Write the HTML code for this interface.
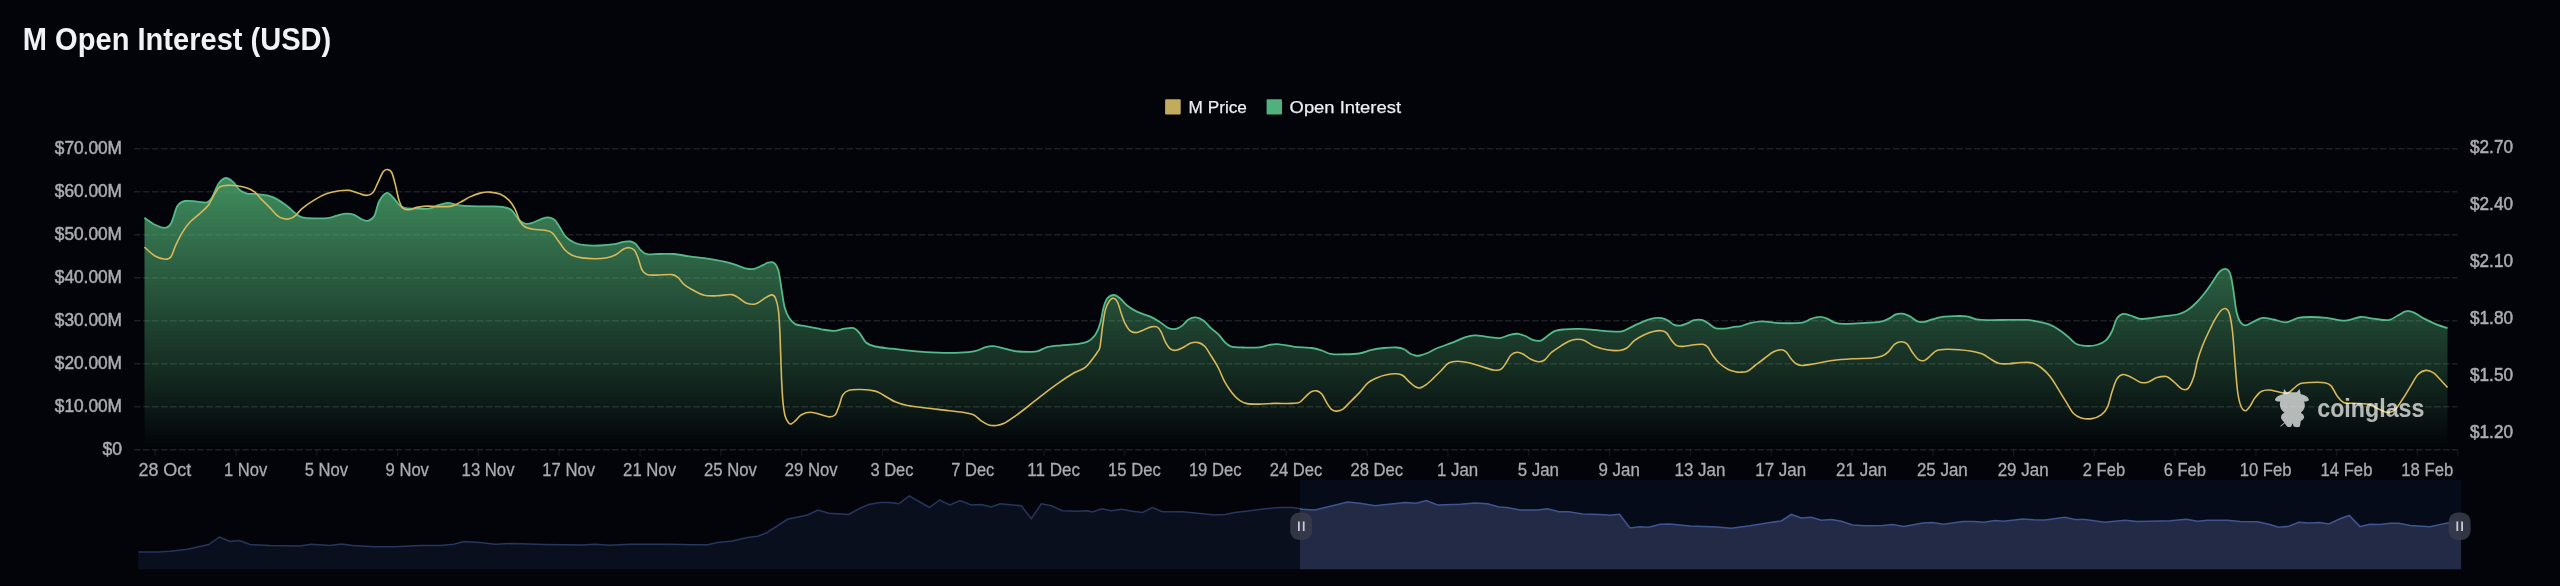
<!DOCTYPE html><html><head><meta charset="utf-8"><title>M Open Interest (USD)</title>
<style>html,body{margin:0;padding:0;background:#030409;}body{width:2560px;height:586px;overflow:hidden;font-family:"Liberation Sans",sans-serif;}svg{display:block;position:absolute;left:0;top:0}svg{will-change:transform}text{font-family:"Liberation Sans",sans-serif;}</style></head><body>
<svg width="2560" height="586" viewBox="0 0 2560 586">
<defs><linearGradient id="ga" x1="0" y1="178" x2="0" y2="449.75" gradientUnits="userSpaceOnUse"><stop offset="0" stop-color="#50b074" stop-opacity="0.8"/><stop offset="1" stop-color="#50b074" stop-opacity="0"/></linearGradient><clipPath id="selclip"><rect x="1300" y="479.75" width="1161.3" height="89.75"/></clipPath><clipPath id="unselclip"><rect x="138" y="479.75" width="1162" height="89.75"/></clipPath></defs>
<text x="22.8" y="49.8" font-size="30.8" font-weight="700" fill="#f1f2f6" textLength="308.5" lengthAdjust="spacingAndGlyphs">M Open Interest (USD)</text>
<rect x="1165.1" y="99.2" width="15.6" height="15.3" rx="1" fill="#c4aa5c"/>
<text x="1188.6" y="112.7" font-size="17.2" fill="#eceef2" stroke="#eceef2" stroke-width="0.25" textLength="58.3" lengthAdjust="spacingAndGlyphs">M Price</text>
<rect x="1266.6" y="99.2" width="15.4" height="15.3" rx="1" fill="#50b07e"/>
<text x="1289.6" y="112.7" font-size="17.2" fill="#eceef2" stroke="#eceef2" stroke-width="0.25" textLength="111.4" lengthAdjust="spacingAndGlyphs">Open Interest</text>
<line x1="134" y1="148.75" x2="2457.5" y2="148.75" stroke="#ffffff" stroke-opacity="0.115" stroke-width="1.5" stroke-dasharray="6.5 2.52"/>
<line x1="134" y1="191.75" x2="2457.5" y2="191.75" stroke="#ffffff" stroke-opacity="0.115" stroke-width="1.5" stroke-dasharray="6.5 2.52"/>
<line x1="134" y1="234.75" x2="2457.5" y2="234.75" stroke="#ffffff" stroke-opacity="0.115" stroke-width="1.5" stroke-dasharray="6.5 2.52"/>
<line x1="134" y1="277.75" x2="2457.5" y2="277.75" stroke="#ffffff" stroke-opacity="0.115" stroke-width="1.5" stroke-dasharray="6.5 2.52"/>
<line x1="134" y1="320.75" x2="2457.5" y2="320.75" stroke="#ffffff" stroke-opacity="0.115" stroke-width="1.5" stroke-dasharray="6.5 2.52"/>
<line x1="134" y1="363.75" x2="2457.5" y2="363.75" stroke="#ffffff" stroke-opacity="0.115" stroke-width="1.5" stroke-dasharray="6.5 2.52"/>
<line x1="134" y1="406.75" x2="2457.5" y2="406.75" stroke="#ffffff" stroke-opacity="0.115" stroke-width="1.5" stroke-dasharray="6.5 2.52"/>
<line x1="134" y1="449.75" x2="2457.5" y2="449.75" stroke="#ffffff" stroke-opacity="0.115" stroke-width="1.5" stroke-dasharray="6.5 2.52"/>
<path d="M144.5 217.8C146.2 219.0 151.6 223.1 155.0 224.8C158.4 226.5 162.3 228.0 165.0 227.8C167.7 227.6 168.9 227.1 171.0 223.5C173.1 219.9 175.1 209.8 177.4 206.0C179.7 202.2 181.7 201.7 185.0 201.0C188.3 200.3 193.3 201.4 197.0 201.6C200.7 201.8 204.5 203.1 207.0 202.4C209.5 201.7 210.1 200.5 212.0 197.4C213.9 194.3 216.2 186.9 218.5 183.7C220.8 180.5 223.5 178.2 226.0 178.0C228.5 177.8 231.2 180.4 233.5 182.4C235.8 184.4 237.4 188.1 239.7 190.0C241.9 191.9 244.1 192.9 247.0 193.6C249.9 194.3 253.7 193.7 257.0 194.0C260.3 194.3 263.8 194.6 267.0 195.4C270.2 196.2 272.7 196.8 276.0 198.6C279.3 200.4 283.7 203.5 287.0 206.0C290.3 208.5 293.3 211.7 295.8 213.6C298.3 215.5 298.9 216.5 302.0 217.3C305.1 218.1 309.9 218.2 314.5 218.3C319.1 218.4 325.2 218.4 329.4 217.8C333.5 217.2 336.5 215.5 339.4 214.8C342.3 214.1 344.4 213.6 346.9 213.6C349.4 213.6 351.8 213.9 354.3 214.8C356.8 215.8 359.5 218.3 361.8 219.3C364.1 220.3 365.9 221.4 368.0 220.8C370.1 220.2 372.4 219.3 374.3 216.0C376.2 212.7 377.2 204.8 379.3 201.0C381.4 197.2 384.4 193.5 386.7 192.9C389.0 192.3 390.9 195.4 393.0 197.4C395.1 199.4 397.3 203.2 399.2 204.9C401.1 206.7 401.7 207.3 404.2 207.9C406.7 208.5 409.9 208.5 414.0 208.6C418.1 208.7 424.8 209.2 429.0 208.6C433.2 208.0 435.9 205.8 439.0 204.9C442.1 204.0 445.1 203.0 447.8 202.9C450.5 202.8 453.0 204.0 455.0 204.4C457.0 204.8 457.5 205.1 460.0 205.4C462.5 205.7 465.0 205.9 470.0 206.1C475.0 206.3 484.6 206.3 490.0 206.4C495.4 206.5 498.9 206.3 502.4 206.9C505.9 207.5 508.3 207.7 511.0 209.8C513.7 211.9 516.3 217.0 518.6 219.3C520.9 221.6 522.5 223.0 524.8 223.6C527.1 224.2 529.4 223.6 532.3 222.8C535.2 222.0 539.5 219.5 542.2 218.6C544.9 217.7 546.4 217.1 548.5 217.3C550.6 217.5 552.8 218.1 554.7 219.8C556.6 221.5 557.8 224.5 559.7 227.3C561.6 230.1 563.4 234.2 565.9 236.8C568.4 239.4 571.5 241.3 574.6 242.7C577.7 244.1 580.4 244.7 584.6 245.2C588.8 245.7 594.6 245.7 599.6 245.5C604.6 245.3 610.4 244.8 614.5 244.2C618.6 243.6 621.8 242.1 624.5 241.7C627.2 241.2 628.8 241.1 630.7 241.5C632.6 241.9 634.0 242.6 635.7 244.0C637.4 245.4 638.8 248.5 640.7 250.2C642.6 251.9 643.8 253.6 646.9 254.2C650.0 254.8 654.8 254.0 659.4 254.0C664.0 254.0 669.3 253.6 674.3 254.0C679.3 254.4 683.5 255.6 689.3 256.4C695.1 257.2 703.4 258.0 709.2 258.9C715.0 259.8 719.6 260.6 724.2 261.7C728.8 262.8 732.9 264.0 736.6 265.2C740.3 266.4 743.7 268.1 746.6 268.7C749.5 269.3 751.3 269.5 754.0 268.9C756.7 268.3 760.5 266.2 762.8 265.2C765.1 264.2 765.9 263.1 767.7 262.7C769.5 262.3 772.0 261.4 773.8 262.7C775.6 264.0 777.1 266.0 778.4 270.4C779.7 274.8 780.5 282.7 781.5 288.8C782.5 294.9 783.3 302.3 784.6 307.2C785.9 312.1 787.4 315.2 789.2 318.0C791.0 320.8 792.5 322.7 795.3 324.1C798.1 325.5 801.8 325.4 806.1 326.3C810.5 327.2 816.8 328.5 821.4 329.3C826.0 330.1 829.9 331.0 833.7 330.9C837.6 330.8 841.2 329.2 844.5 328.7C847.8 328.2 851.2 327.3 853.7 328.1C856.2 328.9 857.8 330.9 859.8 333.3C861.8 335.7 863.4 340.3 866.0 342.5C868.6 344.7 870.9 345.5 875.2 346.5C879.6 347.5 885.7 347.9 892.1 348.7C898.5 349.5 905.9 350.4 913.6 351.1C921.3 351.8 930.5 352.4 938.2 352.7C945.9 353.0 953.6 353.0 959.7 352.7C965.8 352.4 970.6 352.0 975.0 351.1C979.4 350.2 982.7 347.9 985.8 347.1C988.9 346.3 990.6 346.0 993.4 346.2C996.2 346.4 999.1 347.3 1002.7 348.1C1006.3 348.9 1010.3 350.5 1014.9 351.1C1019.5 351.7 1026.5 351.8 1030.3 351.8C1034.1 351.8 1035.2 351.9 1038.0 351.1C1040.8 350.3 1043.4 348.1 1047.2 347.1C1051.0 346.1 1056.1 345.8 1061.0 345.3C1065.9 344.8 1072.1 344.7 1076.4 344.1C1080.8 343.5 1084.0 343.3 1087.1 341.9C1090.2 340.5 1092.6 338.5 1094.8 335.5C1097.0 332.5 1098.5 328.9 1100.0 324.1C1101.5 319.3 1102.5 311.2 1103.7 306.9C1105.0 302.6 1105.8 300.2 1107.5 298.2C1109.2 296.2 1111.6 295.0 1113.7 295.0C1115.8 295.0 1117.6 296.4 1119.9 298.2C1122.2 300.0 1124.5 303.4 1127.4 305.7C1130.3 308.0 1133.7 310.1 1137.4 311.9C1141.1 313.7 1146.1 314.7 1149.8 316.4C1153.5 318.1 1156.7 319.9 1159.8 321.9C1162.9 323.8 1165.8 326.9 1168.5 328.1C1171.2 329.3 1173.7 329.3 1176.0 328.9C1178.3 328.5 1180.1 327.2 1182.2 325.6C1184.3 324.0 1186.2 320.8 1188.5 319.4C1190.8 318.0 1193.5 317.2 1196.0 317.4C1198.5 317.6 1200.9 318.8 1203.4 320.6C1205.9 322.4 1208.4 325.8 1210.9 328.1C1213.4 330.4 1216.1 332.0 1218.4 334.3C1220.7 336.6 1222.5 339.8 1224.6 341.8C1226.7 343.8 1227.9 345.4 1230.8 346.3C1233.7 347.2 1237.3 347.3 1242.1 347.5C1246.9 347.7 1254.9 347.8 1259.5 347.3C1264.1 346.9 1266.2 345.3 1269.5 344.8C1272.8 344.3 1275.2 344.0 1279.4 344.3C1283.6 344.6 1289.0 346.2 1294.4 346.8C1299.8 347.4 1307.2 347.4 1311.8 348.0C1316.4 348.6 1318.7 349.5 1321.8 350.5C1324.9 351.5 1327.2 353.2 1330.5 353.8C1333.8 354.4 1336.9 354.4 1341.7 354.3C1346.5 354.2 1354.2 354.2 1359.2 353.5C1364.2 352.8 1367.6 350.7 1371.7 349.8C1375.8 348.9 1379.9 348.4 1384.1 348.0C1388.2 347.6 1393.3 347.3 1396.6 347.5C1399.9 347.7 1401.8 348.2 1404.1 349.3C1406.4 350.4 1408.4 352.8 1410.3 353.8C1412.2 354.8 1413.7 355.2 1415.3 355.5C1416.9 355.8 1418.0 355.9 1420.0 355.5C1422.0 355.1 1424.6 354.2 1427.5 353.0C1430.4 351.8 1433.2 349.7 1437.4 348.0C1441.6 346.3 1447.8 344.4 1452.4 342.6C1457.0 340.8 1461.2 338.5 1464.9 337.3C1468.6 336.1 1471.1 335.4 1474.8 335.3C1478.5 335.2 1483.1 336.3 1487.3 336.8C1491.5 337.3 1496.1 338.4 1499.8 338.1C1503.5 337.8 1506.6 335.5 1509.7 334.8C1512.8 334.1 1515.7 333.6 1518.4 333.8C1521.1 334.1 1523.4 335.2 1525.9 336.3C1528.4 337.4 1530.9 339.4 1533.4 340.1C1535.9 340.8 1538.6 341.2 1540.9 340.6C1543.2 340.0 1544.8 337.9 1547.1 336.3C1549.4 334.7 1551.7 332.2 1554.6 331.1C1557.5 330.0 1560.3 329.8 1564.5 329.4C1568.7 329.0 1574.5 328.8 1579.5 328.9C1584.5 329.0 1589.5 329.5 1594.5 329.9C1599.5 330.3 1604.8 331.1 1609.4 331.3C1614.0 331.5 1618.6 331.8 1621.9 331.3C1625.2 330.8 1626.8 329.2 1629.3 328.1C1631.8 327.0 1633.9 325.7 1636.8 324.4C1639.7 323.1 1643.9 321.2 1646.8 320.1C1649.7 319.1 1651.8 318.4 1654.3 318.1C1656.8 317.8 1659.4 317.7 1661.7 318.1C1664.0 318.5 1665.9 319.5 1668.0 320.6C1670.1 321.7 1672.1 324.1 1674.2 324.9C1676.3 325.7 1678.1 325.9 1680.4 325.6C1682.7 325.3 1685.6 324.0 1687.9 323.1C1690.2 322.2 1691.8 320.6 1694.1 320.1C1696.4 319.6 1699.3 319.4 1701.6 319.9C1703.9 320.4 1705.6 321.7 1707.9 323.1C1710.2 324.5 1712.6 327.2 1715.3 328.1C1718.0 329.0 1720.9 328.8 1724.0 328.6C1727.1 328.4 1731.3 327.3 1734.0 326.9C1736.7 326.5 1737.3 327.0 1740.0 326.4C1742.7 325.8 1746.3 323.9 1750.0 323.1C1753.7 322.3 1757.4 321.4 1762.4 321.4C1767.4 321.4 1773.2 322.9 1779.9 323.1C1786.6 323.3 1797.1 323.3 1802.3 322.6C1807.5 321.9 1808.1 319.8 1811.0 318.9C1813.9 317.9 1817.1 316.9 1819.8 316.9C1822.5 316.8 1824.7 317.7 1827.2 318.6C1829.7 319.6 1831.8 321.7 1834.7 322.6C1837.6 323.5 1840.1 323.8 1844.7 323.9C1849.3 324.0 1856.3 323.4 1862.1 323.1C1867.9 322.8 1875.2 322.6 1879.6 321.9C1884.0 321.2 1885.6 320.1 1888.3 318.9C1891.0 317.6 1893.5 315.3 1895.8 314.4C1898.1 313.5 1899.7 313.4 1902.0 313.7C1904.3 314.0 1907.0 314.9 1909.5 316.1C1912.0 317.3 1914.4 320.1 1916.9 321.1C1919.4 322.1 1921.9 322.2 1924.4 321.9C1926.9 321.6 1929.0 320.2 1931.9 319.4C1934.8 318.6 1938.2 317.4 1941.9 316.9C1945.6 316.3 1950.2 316.2 1954.3 316.1C1958.4 316.0 1963.0 315.8 1966.8 316.4C1970.5 316.9 1973.1 318.8 1976.8 319.4C1980.5 320.0 1983.8 320.0 1989.2 320.1C1994.6 320.2 2003.0 319.9 2009.2 319.9C2015.4 319.9 2021.6 319.6 2026.6 319.9C2031.6 320.2 2035.1 321.1 2039.1 321.9C2043.0 322.7 2046.9 323.5 2050.3 324.9C2053.7 326.2 2056.2 327.9 2059.3 330.0C2062.4 332.1 2065.8 334.9 2068.6 337.2C2071.4 339.5 2073.6 342.6 2076.4 344.0C2079.2 345.4 2082.3 345.7 2085.7 345.9C2089.1 346.1 2093.2 345.9 2096.6 345.0C2100.0 344.1 2103.3 342.6 2105.9 340.3C2108.5 338.0 2110.3 334.6 2112.1 331.0C2113.9 327.4 2115.0 321.5 2116.8 318.6C2118.6 315.8 2120.7 314.4 2123.0 313.9C2125.3 313.4 2127.8 314.7 2130.7 315.5C2133.5 316.3 2136.5 318.5 2140.1 318.9C2143.7 319.3 2148.4 318.4 2152.5 317.9C2156.6 317.4 2160.8 316.7 2164.9 316.1C2169.0 315.5 2173.7 315.4 2177.3 314.5C2180.9 313.6 2183.5 312.7 2186.6 310.8C2189.7 308.9 2192.9 306.1 2196.0 303.0C2199.1 299.9 2202.5 295.8 2205.3 292.2C2208.1 288.6 2210.7 284.7 2213.0 281.3C2215.3 277.9 2217.2 274.1 2219.3 272.0C2221.4 269.9 2223.7 268.6 2225.5 268.9C2227.3 269.1 2228.8 270.1 2230.1 273.5C2231.4 276.9 2232.2 282.9 2233.2 289.1C2234.2 295.3 2235.2 305.4 2236.3 310.8C2237.5 316.2 2238.5 319.3 2240.1 321.7C2241.7 324.1 2243.5 325.4 2245.7 325.4C2247.9 325.4 2250.6 322.9 2253.4 321.7C2256.2 320.4 2259.3 318.3 2262.7 317.9C2266.1 317.5 2269.7 318.8 2273.6 319.5C2277.5 320.2 2281.9 322.6 2286.0 322.3C2290.1 322.0 2294.2 318.8 2298.4 317.9C2302.6 317.0 2306.2 317.0 2310.9 317.0C2315.6 317.0 2320.7 317.3 2326.4 317.9C2332.1 318.5 2339.3 320.8 2345.0 320.7C2350.7 320.6 2355.9 317.4 2360.6 317.0C2365.3 316.6 2368.3 318.1 2373.0 318.6C2377.7 319.1 2384.4 320.6 2388.5 320.1C2392.6 319.6 2395.0 316.9 2397.8 315.5C2400.7 314.1 2403.0 311.9 2405.6 311.4C2408.2 310.9 2410.6 311.2 2413.4 312.3C2416.2 313.4 2419.1 316.0 2422.7 317.9C2426.3 319.8 2431.0 322.1 2435.1 323.8C2439.2 325.5 2445.4 327.4 2447.5 328.1L2447.5 449.75L144.5 449.75Z" fill="url(#ga)"/>
<path d="M144.5 217.8C146.2 219.0 151.6 223.1 155.0 224.8C158.4 226.5 162.3 228.0 165.0 227.8C167.7 227.6 168.9 227.1 171.0 223.5C173.1 219.9 175.1 209.8 177.4 206.0C179.7 202.2 181.7 201.7 185.0 201.0C188.3 200.3 193.3 201.4 197.0 201.6C200.7 201.8 204.5 203.1 207.0 202.4C209.5 201.7 210.1 200.5 212.0 197.4C213.9 194.3 216.2 186.9 218.5 183.7C220.8 180.5 223.5 178.2 226.0 178.0C228.5 177.8 231.2 180.4 233.5 182.4C235.8 184.4 237.4 188.1 239.7 190.0C241.9 191.9 244.1 192.9 247.0 193.6C249.9 194.3 253.7 193.7 257.0 194.0C260.3 194.3 263.8 194.6 267.0 195.4C270.2 196.2 272.7 196.8 276.0 198.6C279.3 200.4 283.7 203.5 287.0 206.0C290.3 208.5 293.3 211.7 295.8 213.6C298.3 215.5 298.9 216.5 302.0 217.3C305.1 218.1 309.9 218.2 314.5 218.3C319.1 218.4 325.2 218.4 329.4 217.8C333.5 217.2 336.5 215.5 339.4 214.8C342.3 214.1 344.4 213.6 346.9 213.6C349.4 213.6 351.8 213.9 354.3 214.8C356.8 215.8 359.5 218.3 361.8 219.3C364.1 220.3 365.9 221.4 368.0 220.8C370.1 220.2 372.4 219.3 374.3 216.0C376.2 212.7 377.2 204.8 379.3 201.0C381.4 197.2 384.4 193.5 386.7 192.9C389.0 192.3 390.9 195.4 393.0 197.4C395.1 199.4 397.3 203.2 399.2 204.9C401.1 206.7 401.7 207.3 404.2 207.9C406.7 208.5 409.9 208.5 414.0 208.6C418.1 208.7 424.8 209.2 429.0 208.6C433.2 208.0 435.9 205.8 439.0 204.9C442.1 204.0 445.1 203.0 447.8 202.9C450.5 202.8 453.0 204.0 455.0 204.4C457.0 204.8 457.5 205.1 460.0 205.4C462.5 205.7 465.0 205.9 470.0 206.1C475.0 206.3 484.6 206.3 490.0 206.4C495.4 206.5 498.9 206.3 502.4 206.9C505.9 207.5 508.3 207.7 511.0 209.8C513.7 211.9 516.3 217.0 518.6 219.3C520.9 221.6 522.5 223.0 524.8 223.6C527.1 224.2 529.4 223.6 532.3 222.8C535.2 222.0 539.5 219.5 542.2 218.6C544.9 217.7 546.4 217.1 548.5 217.3C550.6 217.5 552.8 218.1 554.7 219.8C556.6 221.5 557.8 224.5 559.7 227.3C561.6 230.1 563.4 234.2 565.9 236.8C568.4 239.4 571.5 241.3 574.6 242.7C577.7 244.1 580.4 244.7 584.6 245.2C588.8 245.7 594.6 245.7 599.6 245.5C604.6 245.3 610.4 244.8 614.5 244.2C618.6 243.6 621.8 242.1 624.5 241.7C627.2 241.2 628.8 241.1 630.7 241.5C632.6 241.9 634.0 242.6 635.7 244.0C637.4 245.4 638.8 248.5 640.7 250.2C642.6 251.9 643.8 253.6 646.9 254.2C650.0 254.8 654.8 254.0 659.4 254.0C664.0 254.0 669.3 253.6 674.3 254.0C679.3 254.4 683.5 255.6 689.3 256.4C695.1 257.2 703.4 258.0 709.2 258.9C715.0 259.8 719.6 260.6 724.2 261.7C728.8 262.8 732.9 264.0 736.6 265.2C740.3 266.4 743.7 268.1 746.6 268.7C749.5 269.3 751.3 269.5 754.0 268.9C756.7 268.3 760.5 266.2 762.8 265.2C765.1 264.2 765.9 263.1 767.7 262.7C769.5 262.3 772.0 261.4 773.8 262.7C775.6 264.0 777.1 266.0 778.4 270.4C779.7 274.8 780.5 282.7 781.5 288.8C782.5 294.9 783.3 302.3 784.6 307.2C785.9 312.1 787.4 315.2 789.2 318.0C791.0 320.8 792.5 322.7 795.3 324.1C798.1 325.5 801.8 325.4 806.1 326.3C810.5 327.2 816.8 328.5 821.4 329.3C826.0 330.1 829.9 331.0 833.7 330.9C837.6 330.8 841.2 329.2 844.5 328.7C847.8 328.2 851.2 327.3 853.7 328.1C856.2 328.9 857.8 330.9 859.8 333.3C861.8 335.7 863.4 340.3 866.0 342.5C868.6 344.7 870.9 345.5 875.2 346.5C879.6 347.5 885.7 347.9 892.1 348.7C898.5 349.5 905.9 350.4 913.6 351.1C921.3 351.8 930.5 352.4 938.2 352.7C945.9 353.0 953.6 353.0 959.7 352.7C965.8 352.4 970.6 352.0 975.0 351.1C979.4 350.2 982.7 347.9 985.8 347.1C988.9 346.3 990.6 346.0 993.4 346.2C996.2 346.4 999.1 347.3 1002.7 348.1C1006.3 348.9 1010.3 350.5 1014.9 351.1C1019.5 351.7 1026.5 351.8 1030.3 351.8C1034.1 351.8 1035.2 351.9 1038.0 351.1C1040.8 350.3 1043.4 348.1 1047.2 347.1C1051.0 346.1 1056.1 345.8 1061.0 345.3C1065.9 344.8 1072.1 344.7 1076.4 344.1C1080.8 343.5 1084.0 343.3 1087.1 341.9C1090.2 340.5 1092.6 338.5 1094.8 335.5C1097.0 332.5 1098.5 328.9 1100.0 324.1C1101.5 319.3 1102.5 311.2 1103.7 306.9C1105.0 302.6 1105.8 300.2 1107.5 298.2C1109.2 296.2 1111.6 295.0 1113.7 295.0C1115.8 295.0 1117.6 296.4 1119.9 298.2C1122.2 300.0 1124.5 303.4 1127.4 305.7C1130.3 308.0 1133.7 310.1 1137.4 311.9C1141.1 313.7 1146.1 314.7 1149.8 316.4C1153.5 318.1 1156.7 319.9 1159.8 321.9C1162.9 323.8 1165.8 326.9 1168.5 328.1C1171.2 329.3 1173.7 329.3 1176.0 328.9C1178.3 328.5 1180.1 327.2 1182.2 325.6C1184.3 324.0 1186.2 320.8 1188.5 319.4C1190.8 318.0 1193.5 317.2 1196.0 317.4C1198.5 317.6 1200.9 318.8 1203.4 320.6C1205.9 322.4 1208.4 325.8 1210.9 328.1C1213.4 330.4 1216.1 332.0 1218.4 334.3C1220.7 336.6 1222.5 339.8 1224.6 341.8C1226.7 343.8 1227.9 345.4 1230.8 346.3C1233.7 347.2 1237.3 347.3 1242.1 347.5C1246.9 347.7 1254.9 347.8 1259.5 347.3C1264.1 346.9 1266.2 345.3 1269.5 344.8C1272.8 344.3 1275.2 344.0 1279.4 344.3C1283.6 344.6 1289.0 346.2 1294.4 346.8C1299.8 347.4 1307.2 347.4 1311.8 348.0C1316.4 348.6 1318.7 349.5 1321.8 350.5C1324.9 351.5 1327.2 353.2 1330.5 353.8C1333.8 354.4 1336.9 354.4 1341.7 354.3C1346.5 354.2 1354.2 354.2 1359.2 353.5C1364.2 352.8 1367.6 350.7 1371.7 349.8C1375.8 348.9 1379.9 348.4 1384.1 348.0C1388.2 347.6 1393.3 347.3 1396.6 347.5C1399.9 347.7 1401.8 348.2 1404.1 349.3C1406.4 350.4 1408.4 352.8 1410.3 353.8C1412.2 354.8 1413.7 355.2 1415.3 355.5C1416.9 355.8 1418.0 355.9 1420.0 355.5C1422.0 355.1 1424.6 354.2 1427.5 353.0C1430.4 351.8 1433.2 349.7 1437.4 348.0C1441.6 346.3 1447.8 344.4 1452.4 342.6C1457.0 340.8 1461.2 338.5 1464.9 337.3C1468.6 336.1 1471.1 335.4 1474.8 335.3C1478.5 335.2 1483.1 336.3 1487.3 336.8C1491.5 337.3 1496.1 338.4 1499.8 338.1C1503.5 337.8 1506.6 335.5 1509.7 334.8C1512.8 334.1 1515.7 333.6 1518.4 333.8C1521.1 334.1 1523.4 335.2 1525.9 336.3C1528.4 337.4 1530.9 339.4 1533.4 340.1C1535.9 340.8 1538.6 341.2 1540.9 340.6C1543.2 340.0 1544.8 337.9 1547.1 336.3C1549.4 334.7 1551.7 332.2 1554.6 331.1C1557.5 330.0 1560.3 329.8 1564.5 329.4C1568.7 329.0 1574.5 328.8 1579.5 328.9C1584.5 329.0 1589.5 329.5 1594.5 329.9C1599.5 330.3 1604.8 331.1 1609.4 331.3C1614.0 331.5 1618.6 331.8 1621.9 331.3C1625.2 330.8 1626.8 329.2 1629.3 328.1C1631.8 327.0 1633.9 325.7 1636.8 324.4C1639.7 323.1 1643.9 321.2 1646.8 320.1C1649.7 319.1 1651.8 318.4 1654.3 318.1C1656.8 317.8 1659.4 317.7 1661.7 318.1C1664.0 318.5 1665.9 319.5 1668.0 320.6C1670.1 321.7 1672.1 324.1 1674.2 324.9C1676.3 325.7 1678.1 325.9 1680.4 325.6C1682.7 325.3 1685.6 324.0 1687.9 323.1C1690.2 322.2 1691.8 320.6 1694.1 320.1C1696.4 319.6 1699.3 319.4 1701.6 319.9C1703.9 320.4 1705.6 321.7 1707.9 323.1C1710.2 324.5 1712.6 327.2 1715.3 328.1C1718.0 329.0 1720.9 328.8 1724.0 328.6C1727.1 328.4 1731.3 327.3 1734.0 326.9C1736.7 326.5 1737.3 327.0 1740.0 326.4C1742.7 325.8 1746.3 323.9 1750.0 323.1C1753.7 322.3 1757.4 321.4 1762.4 321.4C1767.4 321.4 1773.2 322.9 1779.9 323.1C1786.6 323.3 1797.1 323.3 1802.3 322.6C1807.5 321.9 1808.1 319.8 1811.0 318.9C1813.9 317.9 1817.1 316.9 1819.8 316.9C1822.5 316.8 1824.7 317.7 1827.2 318.6C1829.7 319.6 1831.8 321.7 1834.7 322.6C1837.6 323.5 1840.1 323.8 1844.7 323.9C1849.3 324.0 1856.3 323.4 1862.1 323.1C1867.9 322.8 1875.2 322.6 1879.6 321.9C1884.0 321.2 1885.6 320.1 1888.3 318.9C1891.0 317.6 1893.5 315.3 1895.8 314.4C1898.1 313.5 1899.7 313.4 1902.0 313.7C1904.3 314.0 1907.0 314.9 1909.5 316.1C1912.0 317.3 1914.4 320.1 1916.9 321.1C1919.4 322.1 1921.9 322.2 1924.4 321.9C1926.9 321.6 1929.0 320.2 1931.9 319.4C1934.8 318.6 1938.2 317.4 1941.9 316.9C1945.6 316.3 1950.2 316.2 1954.3 316.1C1958.4 316.0 1963.0 315.8 1966.8 316.4C1970.5 316.9 1973.1 318.8 1976.8 319.4C1980.5 320.0 1983.8 320.0 1989.2 320.1C1994.6 320.2 2003.0 319.9 2009.2 319.9C2015.4 319.9 2021.6 319.6 2026.6 319.9C2031.6 320.2 2035.1 321.1 2039.1 321.9C2043.0 322.7 2046.9 323.5 2050.3 324.9C2053.7 326.2 2056.2 327.9 2059.3 330.0C2062.4 332.1 2065.8 334.9 2068.6 337.2C2071.4 339.5 2073.6 342.6 2076.4 344.0C2079.2 345.4 2082.3 345.7 2085.7 345.9C2089.1 346.1 2093.2 345.9 2096.6 345.0C2100.0 344.1 2103.3 342.6 2105.9 340.3C2108.5 338.0 2110.3 334.6 2112.1 331.0C2113.9 327.4 2115.0 321.5 2116.8 318.6C2118.6 315.8 2120.7 314.4 2123.0 313.9C2125.3 313.4 2127.8 314.7 2130.7 315.5C2133.5 316.3 2136.5 318.5 2140.1 318.9C2143.7 319.3 2148.4 318.4 2152.5 317.9C2156.6 317.4 2160.8 316.7 2164.9 316.1C2169.0 315.5 2173.7 315.4 2177.3 314.5C2180.9 313.6 2183.5 312.7 2186.6 310.8C2189.7 308.9 2192.9 306.1 2196.0 303.0C2199.1 299.9 2202.5 295.8 2205.3 292.2C2208.1 288.6 2210.7 284.7 2213.0 281.3C2215.3 277.9 2217.2 274.1 2219.3 272.0C2221.4 269.9 2223.7 268.6 2225.5 268.9C2227.3 269.1 2228.8 270.1 2230.1 273.5C2231.4 276.9 2232.2 282.9 2233.2 289.1C2234.2 295.3 2235.2 305.4 2236.3 310.8C2237.5 316.2 2238.5 319.3 2240.1 321.7C2241.7 324.1 2243.5 325.4 2245.7 325.4C2247.9 325.4 2250.6 322.9 2253.4 321.7C2256.2 320.4 2259.3 318.3 2262.7 317.9C2266.1 317.5 2269.7 318.8 2273.6 319.5C2277.5 320.2 2281.9 322.6 2286.0 322.3C2290.1 322.0 2294.2 318.8 2298.4 317.9C2302.6 317.0 2306.2 317.0 2310.9 317.0C2315.6 317.0 2320.7 317.3 2326.4 317.9C2332.1 318.5 2339.3 320.8 2345.0 320.7C2350.7 320.6 2355.9 317.4 2360.6 317.0C2365.3 316.6 2368.3 318.1 2373.0 318.6C2377.7 319.1 2384.4 320.6 2388.5 320.1C2392.6 319.6 2395.0 316.9 2397.8 315.5C2400.7 314.1 2403.0 311.9 2405.6 311.4C2408.2 310.9 2410.6 311.2 2413.4 312.3C2416.2 313.4 2419.1 316.0 2422.7 317.9C2426.3 319.8 2431.0 322.1 2435.1 323.8C2439.2 325.5 2445.4 327.4 2447.5 328.1" fill="none" stroke="#55b98a" stroke-width="1.8" stroke-linejoin="round"/>
<path d="M144.5 247.2C146.2 248.7 151.6 254.0 155.0 256.0C158.4 258.0 162.3 259.1 165.0 259.2C167.7 259.3 169.2 259.1 171.0 256.7C172.8 254.3 174.1 248.8 176.0 244.7C177.9 240.6 180.1 236.0 182.4 232.3C184.7 228.6 186.9 225.4 189.8 222.3C192.7 219.2 196.7 216.5 199.8 213.6C202.9 210.7 206.0 208.2 208.5 204.9C211.0 201.6 212.9 196.6 214.8 193.6C216.7 190.6 217.7 188.3 219.8 186.9C221.9 185.5 224.3 185.6 227.2 185.4C230.1 185.2 233.9 185.3 237.2 185.7C240.5 186.1 244.3 186.9 247.2 187.9C250.1 188.9 252.1 189.9 254.6 191.9C257.1 193.9 259.5 197.3 262.0 199.9C264.5 202.5 267.1 204.8 269.6 207.4C272.1 210.0 274.7 213.4 277.0 215.3C279.3 217.2 281.2 218.0 283.3 218.6C285.4 219.2 287.4 219.4 289.5 218.8C291.6 218.2 293.7 217.0 295.8 215.3C297.9 213.6 298.9 211.2 302.0 208.6C305.1 206.0 310.4 202.4 314.5 199.9C318.6 197.4 322.8 195.1 326.9 193.6C331.0 192.1 335.7 191.2 339.4 190.7C343.1 190.2 346.0 189.9 349.3 190.4C352.6 190.9 356.4 192.8 359.3 193.6C362.2 194.4 364.5 195.6 366.8 195.4C369.1 195.2 371.1 194.6 373.0 192.4C374.9 190.2 376.3 185.8 378.0 182.4C379.7 179.0 381.5 174.2 383.0 172.0C384.5 169.8 385.8 169.4 387.2 169.5C388.6 169.6 390.3 169.9 391.7 172.5C393.1 175.1 394.1 180.1 395.4 184.9C396.6 189.7 397.9 197.2 399.2 201.1C400.4 205.0 401.2 206.6 402.9 208.1C404.6 209.6 406.9 209.9 409.2 209.8C411.5 209.7 413.7 208.0 416.6 207.4C419.5 206.8 422.9 206.2 426.6 206.1C430.3 206.0 434.9 206.6 439.0 206.6C443.1 206.6 448.0 206.8 451.5 206.1C455.0 205.4 456.9 203.9 460.0 202.4C463.1 200.9 466.7 198.5 470.0 196.9C473.3 195.3 476.7 193.9 480.0 193.1C483.3 192.3 486.7 191.9 490.0 192.1C493.3 192.3 496.8 192.8 499.9 194.1C503.0 195.4 506.1 197.5 508.6 199.9C511.1 202.3 512.9 205.1 514.8 208.6C516.7 212.1 518.1 218.1 519.8 221.1C521.5 224.1 522.5 225.4 524.8 226.8C527.1 228.2 530.2 228.7 533.5 229.3C536.8 229.9 541.6 229.7 544.7 230.3C547.8 230.9 549.9 231.0 552.2 232.8C554.5 234.6 556.3 238.2 558.4 241.0C560.5 243.8 562.4 247.3 564.7 249.7C567.0 252.1 569.2 253.8 572.1 255.2C575.0 256.6 578.4 257.3 582.1 257.9C585.9 258.5 590.5 258.7 594.6 258.7C598.8 258.7 603.5 258.4 607.0 257.7C610.5 257.0 613.1 256.1 615.8 254.7C618.5 253.3 620.9 250.4 623.2 249.2C625.5 248.0 627.6 247.5 629.5 247.7C631.4 247.9 633.0 248.4 634.5 250.2C636.0 252.0 637.0 255.1 638.2 258.4C639.4 261.6 640.5 267.0 641.9 269.7C643.3 272.4 644.4 273.7 646.9 274.6C649.4 275.5 652.8 275.1 656.9 275.1C661.0 275.1 668.3 274.2 671.8 274.6C675.3 275.0 676.0 275.9 678.1 277.6C680.2 279.3 681.6 282.4 684.3 284.6C687.0 286.8 691.0 289.0 694.3 290.8C697.6 292.6 700.5 294.5 704.2 295.3C707.9 296.1 712.1 295.9 716.7 295.8C721.3 295.7 728.0 294.2 731.7 294.6C735.4 295.0 736.6 296.9 739.1 298.3C741.6 299.8 743.9 302.4 746.6 303.3C749.3 304.2 752.6 304.6 755.3 304.0C758.0 303.4 761.0 300.7 762.8 299.6C764.6 298.5 764.6 298.2 766.1 297.4C767.6 296.6 770.2 294.8 771.7 294.9C773.2 295.0 774.3 295.4 775.4 298.0C776.5 300.6 777.6 304.2 778.4 310.3C779.2 316.4 779.5 323.6 780.0 334.9C780.5 346.2 781.0 366.6 781.5 377.9C782.0 389.1 782.4 396.0 783.0 402.4C783.6 408.8 784.3 413.0 785.2 416.3C786.1 419.6 787.3 421.1 788.3 422.4C789.3 423.7 790.1 424.1 791.3 423.9C792.5 423.6 793.6 422.4 795.3 420.9C797.0 419.4 798.9 416.1 801.5 414.7C804.1 413.3 807.4 412.3 810.7 412.3C814.0 412.3 818.3 413.9 821.4 414.7C824.5 415.5 826.8 416.9 829.1 416.9C831.4 416.9 833.6 416.6 835.3 414.7C837.0 412.8 837.9 408.8 839.2 405.5C840.5 402.2 841.2 397.4 842.9 394.8C844.5 392.2 846.0 391.1 849.1 390.2C852.2 389.3 857.0 389.4 861.4 389.5C865.8 389.6 871.6 390.2 875.2 391.1C878.8 392.0 879.6 393.0 882.9 394.8C886.2 396.6 891.1 400.0 895.2 401.8C899.3 403.6 902.3 404.5 907.4 405.5C912.5 406.5 919.8 407.2 925.9 408.0C932.0 408.8 938.2 409.4 944.3 410.1C950.4 410.8 957.8 411.5 962.7 412.3C967.6 413.1 970.4 413.3 973.5 414.7C976.6 416.1 978.7 419.2 981.2 420.9C983.8 422.6 986.2 424.1 988.8 424.9C991.3 425.7 993.9 425.8 996.5 425.5C999.1 425.2 1001.1 424.8 1004.2 423.3C1007.3 421.8 1011.1 419.0 1014.9 416.3C1018.7 413.6 1022.6 410.6 1027.2 407.0C1031.8 403.4 1037.5 398.7 1042.6 394.8C1047.7 390.9 1052.9 387.0 1058.0 383.4C1063.1 379.8 1068.7 376.0 1073.3 373.3C1077.9 370.6 1082.3 369.7 1085.6 367.1C1088.9 364.5 1091.3 360.4 1093.3 357.9C1095.3 355.4 1096.4 353.9 1097.5 352.0C1098.6 350.1 1099.2 351.0 1100.0 346.8C1100.8 342.6 1101.6 333.1 1102.5 326.9C1103.4 320.7 1104.3 313.8 1105.5 309.4C1106.7 305.0 1108.1 302.6 1109.5 300.7C1110.9 298.8 1112.4 298.0 1113.7 298.2C1115.0 298.4 1116.2 299.4 1117.4 301.9C1118.7 304.4 1120.0 309.7 1121.2 313.2C1122.5 316.7 1123.5 320.2 1124.9 323.1C1126.4 326.0 1128.0 329.0 1129.9 330.6C1131.8 332.2 1133.8 332.7 1136.1 332.6C1138.4 332.5 1141.1 330.8 1143.6 329.9C1146.1 328.9 1148.9 327.4 1151.1 326.9C1153.3 326.4 1155.1 326.1 1156.8 326.9C1158.5 327.7 1159.7 329.3 1161.1 331.8C1162.5 334.3 1163.8 339.0 1165.3 341.8C1166.8 344.6 1168.5 347.4 1170.3 348.8C1172.1 350.2 1173.8 350.6 1176.0 350.3C1178.2 350.1 1181.0 348.5 1183.5 347.3C1186.0 346.1 1188.5 343.9 1191.0 343.1C1193.5 342.3 1196.1 342.1 1198.4 342.6C1200.7 343.1 1202.6 344.2 1204.7 346.3C1206.8 348.4 1208.6 351.9 1210.9 355.5C1213.2 359.1 1216.1 363.6 1218.4 368.0C1220.7 372.4 1222.3 377.6 1224.6 381.7C1226.9 385.8 1229.6 389.8 1232.1 392.9C1234.6 396.0 1237.1 398.6 1239.6 400.4C1242.1 402.2 1243.7 403.0 1247.0 403.6C1250.3 404.2 1254.9 404.1 1259.5 404.1C1264.1 404.1 1269.1 403.5 1274.5 403.4C1279.9 403.3 1287.8 403.6 1291.9 403.4C1296.1 403.2 1297.1 403.5 1299.4 402.4C1301.7 401.3 1303.6 398.4 1305.6 396.6C1307.6 394.8 1309.4 392.6 1311.3 391.7C1313.2 390.8 1315.0 390.5 1316.8 390.9C1318.5 391.3 1320.1 392.1 1321.8 394.1C1323.5 396.1 1325.1 400.3 1326.8 402.9C1328.5 405.5 1330.1 408.2 1331.8 409.6C1333.5 411.0 1334.9 411.2 1336.8 411.1C1338.7 411.0 1340.9 410.5 1343.0 409.1C1345.1 407.7 1346.5 405.6 1349.2 402.9C1351.9 400.2 1356.1 396.2 1359.2 392.9C1362.3 389.6 1365.0 385.4 1367.9 382.9C1370.8 380.4 1373.5 379.3 1376.6 377.9C1379.7 376.5 1383.3 375.4 1386.6 374.7C1389.9 374.0 1393.9 373.6 1396.6 373.7C1399.3 373.8 1400.7 374.2 1402.8 375.5C1404.9 376.8 1406.9 379.8 1409.0 381.7C1411.1 383.6 1413.5 385.7 1415.3 386.7C1417.1 387.7 1418.2 388.2 1420.0 387.9C1421.8 387.6 1423.9 386.4 1426.2 384.7C1428.5 383.0 1431.2 380.3 1433.7 377.9C1436.2 375.5 1438.7 373.0 1441.2 370.5C1443.7 368.0 1446.0 364.5 1448.7 363.0C1451.4 361.5 1453.9 361.3 1457.4 361.3C1460.9 361.3 1465.7 362.1 1469.8 363.0C1473.9 363.9 1478.3 365.5 1482.3 366.7C1486.2 367.9 1490.4 369.6 1493.5 370.0C1496.6 370.4 1498.9 370.4 1501.0 369.2C1503.1 368.0 1504.3 365.4 1506.0 363.0C1507.7 360.6 1509.1 356.8 1511.0 355.0C1512.9 353.2 1515.1 352.4 1517.2 352.3C1519.3 352.2 1521.1 353.1 1523.4 354.3C1525.7 355.5 1528.4 358.1 1530.9 359.3C1533.4 360.6 1536.1 361.7 1538.4 361.8C1540.7 361.9 1542.5 361.5 1544.6 360.0C1546.7 358.5 1548.3 355.2 1550.8 353.0C1553.3 350.8 1556.5 348.8 1559.6 346.8C1562.7 344.8 1566.6 342.4 1569.5 341.1C1572.4 339.9 1574.5 339.4 1577.0 339.3C1579.5 339.2 1581.6 339.4 1584.5 340.6C1587.4 341.8 1590.8 344.8 1594.5 346.3C1598.2 347.8 1602.8 349.1 1606.9 349.8C1611.1 350.5 1616.1 350.8 1619.4 350.5C1622.7 350.2 1624.4 349.6 1626.9 348.0C1629.4 346.4 1631.4 342.8 1634.3 340.6C1637.2 338.4 1641.0 336.4 1644.3 334.8C1647.6 333.2 1651.4 332.0 1654.3 331.3C1657.2 330.6 1659.6 330.5 1661.7 330.8C1663.8 331.1 1665.0 331.5 1666.7 333.1C1668.4 334.7 1670.0 338.5 1671.7 340.6C1673.4 342.7 1674.6 344.7 1676.7 345.6C1678.8 346.6 1681.3 346.4 1684.2 346.3C1687.1 346.2 1691.0 345.1 1694.1 344.8C1697.2 344.5 1700.6 343.9 1702.9 344.3C1705.2 344.7 1706.2 345.4 1707.9 347.3C1709.6 349.2 1710.9 352.9 1712.8 355.5C1714.7 358.1 1716.6 360.7 1719.1 363.0C1721.6 365.3 1725.1 367.8 1727.8 369.2C1730.5 370.6 1733.3 371.2 1735.3 371.7C1737.3 372.2 1738.0 372.3 1740.0 372.2C1742.0 372.1 1745.0 372.3 1747.5 371.2C1750.0 370.1 1752.1 367.7 1755.0 365.5C1757.9 363.3 1761.8 360.3 1764.9 358.0C1768.0 355.7 1770.9 353.2 1773.6 351.8C1776.3 350.4 1779.0 349.8 1781.1 349.8C1783.2 349.8 1784.4 350.3 1786.1 351.8C1787.8 353.3 1789.4 356.8 1791.1 358.8C1792.8 360.8 1794.2 362.6 1796.1 363.7C1798.0 364.8 1799.2 365.5 1802.3 365.5C1805.4 365.5 1809.8 364.5 1814.8 363.7C1819.8 362.9 1826.0 361.3 1832.2 360.5C1838.4 359.7 1845.4 359.2 1852.1 358.8C1858.8 358.4 1867.1 358.5 1872.1 358.0C1877.1 357.5 1879.4 357.0 1882.1 356.0C1884.8 355.0 1886.2 353.8 1888.3 351.8C1890.4 349.9 1892.4 346.0 1894.5 344.3C1896.6 342.6 1898.6 341.9 1900.7 341.8C1902.8 341.7 1905.1 342.1 1907.0 343.8C1908.9 345.5 1910.1 349.2 1912.0 351.8C1913.9 354.4 1916.1 357.9 1918.2 359.3C1920.3 360.8 1922.3 361.1 1924.4 360.5C1926.5 359.9 1928.6 357.2 1930.7 355.5C1932.8 353.8 1934.2 351.5 1936.9 350.5C1939.6 349.5 1943.2 349.4 1946.9 349.3C1950.6 349.2 1955.2 349.5 1959.3 349.8C1963.4 350.1 1967.8 350.6 1971.8 351.3C1975.8 352.1 1979.7 352.9 1983.0 354.3C1986.3 355.7 1989.0 358.3 1991.7 359.8C1994.4 361.3 1996.3 362.9 1999.2 363.5C2002.1 364.1 2005.5 363.9 2009.2 363.7C2012.9 363.5 2017.7 362.6 2021.6 362.5C2025.5 362.4 2029.5 362.1 2032.8 363.0C2036.1 363.9 2038.7 365.7 2041.6 368.0C2044.5 370.3 2047.6 373.3 2050.3 376.7C2053.0 380.1 2055.3 384.4 2057.8 388.4C2060.3 392.4 2062.9 396.8 2065.5 400.9C2068.1 405.0 2070.7 410.5 2073.3 413.3C2075.9 416.1 2078.0 417.0 2081.1 417.9C2084.2 418.8 2088.6 419.1 2091.9 418.6C2095.2 418.1 2098.6 416.7 2101.2 414.8C2103.8 412.9 2105.7 411.0 2107.5 407.1C2109.3 403.2 2110.5 396.2 2112.1 391.5C2113.7 386.8 2115.0 381.9 2116.8 379.1C2118.6 376.3 2120.7 374.9 2123.0 374.5C2125.3 374.1 2127.8 375.6 2130.7 376.9C2133.5 378.2 2137.2 381.3 2140.1 382.2C2142.9 383.1 2145.0 383.0 2147.8 382.2C2150.6 381.4 2154.0 378.5 2157.1 377.6C2160.2 376.7 2163.7 375.8 2166.5 376.6C2169.3 377.4 2171.6 380.1 2174.2 382.2C2176.8 384.3 2179.7 388.1 2182.0 389.1C2184.3 390.1 2186.3 390.3 2188.2 388.4C2190.1 386.5 2191.9 382.2 2193.5 377.6C2195.1 373.0 2196.1 365.7 2197.5 360.5C2198.9 355.3 2200.4 351.2 2202.2 346.5C2204.0 341.8 2206.3 336.9 2208.4 332.5C2210.5 328.1 2212.5 323.7 2214.6 320.1C2216.7 316.5 2219.0 312.7 2220.8 310.8C2222.6 308.9 2224.1 308.1 2225.5 308.6C2226.9 309.1 2228.3 309.9 2229.5 313.9C2230.7 317.9 2231.7 324.2 2232.6 332.5C2233.5 340.8 2234.3 353.8 2235.1 363.6C2235.9 373.4 2236.7 384.5 2237.6 391.5C2238.5 398.5 2239.5 402.3 2240.7 405.5C2241.9 408.7 2243.6 410.5 2245.0 410.8C2246.4 411.1 2247.7 409.3 2249.4 407.1C2251.1 404.9 2253.0 400.4 2255.0 397.8C2257.0 395.2 2258.9 392.8 2261.2 391.5C2263.5 390.2 2265.8 389.9 2268.9 390.0C2272.0 390.1 2276.7 391.7 2279.8 392.2C2282.9 392.7 2285.3 393.7 2287.6 393.1C2289.9 392.5 2291.7 389.9 2293.8 388.4C2295.9 386.8 2297.2 384.8 2300.0 383.8C2302.8 382.8 2306.8 382.7 2310.9 382.5C2315.0 382.3 2321.4 382.2 2324.8 382.8C2328.2 383.4 2329.0 383.7 2331.1 385.9C2333.2 388.1 2335.2 393.4 2337.3 396.2C2339.4 398.9 2340.9 401.2 2343.5 402.4C2346.1 403.6 2348.9 403.0 2352.8 403.3C2356.7 403.6 2362.9 403.3 2366.8 404.0C2370.7 404.7 2372.7 406.3 2376.1 407.7C2379.5 409.1 2383.9 411.9 2387.0 412.3C2390.1 412.7 2392.1 412.4 2394.7 410.2C2397.3 408.0 2399.9 403.2 2402.5 399.3C2405.1 395.4 2407.6 391.0 2410.2 386.9C2412.8 382.8 2415.4 377.2 2418.0 374.5C2420.6 371.8 2423.2 370.7 2425.8 370.4C2428.4 370.1 2430.9 371.2 2433.5 372.9C2436.1 374.6 2439.0 378.3 2441.3 380.7C2443.6 383.1 2446.5 386.4 2447.5 387.5" fill="none" stroke="#d8b85a" stroke-width="1.6" stroke-linejoin="round"/>
<line x1="155.2" y1="449.75" x2="155.2" y2="456" stroke="#ffffff" stroke-opacity="0.075" stroke-width="1.2"/>
<line x1="236.0" y1="449.75" x2="236.0" y2="456" stroke="#ffffff" stroke-opacity="0.075" stroke-width="1.2"/>
<line x1="316.8" y1="449.75" x2="316.8" y2="456" stroke="#ffffff" stroke-opacity="0.075" stroke-width="1.2"/>
<line x1="397.6" y1="449.75" x2="397.6" y2="456" stroke="#ffffff" stroke-opacity="0.075" stroke-width="1.2"/>
<line x1="478.4" y1="449.75" x2="478.4" y2="456" stroke="#ffffff" stroke-opacity="0.075" stroke-width="1.2"/>
<line x1="559.2" y1="449.75" x2="559.2" y2="456" stroke="#ffffff" stroke-opacity="0.075" stroke-width="1.2"/>
<line x1="640.0" y1="449.75" x2="640.0" y2="456" stroke="#ffffff" stroke-opacity="0.075" stroke-width="1.2"/>
<line x1="720.8" y1="449.75" x2="720.8" y2="456" stroke="#ffffff" stroke-opacity="0.075" stroke-width="1.2"/>
<line x1="801.6" y1="449.75" x2="801.6" y2="456" stroke="#ffffff" stroke-opacity="0.075" stroke-width="1.2"/>
<line x1="882.4" y1="449.75" x2="882.4" y2="456" stroke="#ffffff" stroke-opacity="0.075" stroke-width="1.2"/>
<line x1="963.2" y1="449.75" x2="963.2" y2="456" stroke="#ffffff" stroke-opacity="0.075" stroke-width="1.2"/>
<line x1="1044.0" y1="449.75" x2="1044.0" y2="456" stroke="#ffffff" stroke-opacity="0.075" stroke-width="1.2"/>
<line x1="1124.8" y1="449.75" x2="1124.8" y2="456" stroke="#ffffff" stroke-opacity="0.075" stroke-width="1.2"/>
<line x1="1205.6" y1="449.75" x2="1205.6" y2="456" stroke="#ffffff" stroke-opacity="0.075" stroke-width="1.2"/>
<line x1="1286.4" y1="449.75" x2="1286.4" y2="456" stroke="#ffffff" stroke-opacity="0.075" stroke-width="1.2"/>
<line x1="1367.2" y1="449.75" x2="1367.2" y2="456" stroke="#ffffff" stroke-opacity="0.075" stroke-width="1.2"/>
<line x1="1448.0" y1="449.75" x2="1448.0" y2="456" stroke="#ffffff" stroke-opacity="0.075" stroke-width="1.2"/>
<line x1="1528.8" y1="449.75" x2="1528.8" y2="456" stroke="#ffffff" stroke-opacity="0.075" stroke-width="1.2"/>
<line x1="1609.6" y1="449.75" x2="1609.6" y2="456" stroke="#ffffff" stroke-opacity="0.075" stroke-width="1.2"/>
<line x1="1690.4" y1="449.75" x2="1690.4" y2="456" stroke="#ffffff" stroke-opacity="0.075" stroke-width="1.2"/>
<line x1="1771.2" y1="449.75" x2="1771.2" y2="456" stroke="#ffffff" stroke-opacity="0.075" stroke-width="1.2"/>
<line x1="1852.0" y1="449.75" x2="1852.0" y2="456" stroke="#ffffff" stroke-opacity="0.075" stroke-width="1.2"/>
<line x1="1932.8" y1="449.75" x2="1932.8" y2="456" stroke="#ffffff" stroke-opacity="0.075" stroke-width="1.2"/>
<line x1="2013.6" y1="449.75" x2="2013.6" y2="456" stroke="#ffffff" stroke-opacity="0.075" stroke-width="1.2"/>
<line x1="2094.4" y1="449.75" x2="2094.4" y2="456" stroke="#ffffff" stroke-opacity="0.075" stroke-width="1.2"/>
<line x1="2175.2" y1="449.75" x2="2175.2" y2="456" stroke="#ffffff" stroke-opacity="0.075" stroke-width="1.2"/>
<line x1="2256.0" y1="449.75" x2="2256.0" y2="456" stroke="#ffffff" stroke-opacity="0.075" stroke-width="1.2"/>
<line x1="2336.8" y1="449.75" x2="2336.8" y2="456" stroke="#ffffff" stroke-opacity="0.075" stroke-width="1.2"/>
<line x1="2417.6" y1="449.75" x2="2417.6" y2="456" stroke="#ffffff" stroke-opacity="0.075" stroke-width="1.2"/>
<line x1="2457.8" y1="449.75" x2="2457.8" y2="456" stroke="#ffffff" stroke-opacity="0.075" stroke-width="1.2"/>
<text x="54.8" y="154.00" font-size="18.5" fill="#a9acb1" stroke="#a9acb1" stroke-width="0.55" textLength="67.2" lengthAdjust="spacingAndGlyphs">$70.00M</text>
<text x="54.8" y="197.00" font-size="18.5" fill="#a9acb1" stroke="#a9acb1" stroke-width="0.55" textLength="67.2" lengthAdjust="spacingAndGlyphs">$60.00M</text>
<text x="54.8" y="240.00" font-size="18.5" fill="#a9acb1" stroke="#a9acb1" stroke-width="0.55" textLength="67.2" lengthAdjust="spacingAndGlyphs">$50.00M</text>
<text x="54.8" y="283.00" font-size="18.5" fill="#a9acb1" stroke="#a9acb1" stroke-width="0.55" textLength="67.2" lengthAdjust="spacingAndGlyphs">$40.00M</text>
<text x="54.8" y="326.00" font-size="18.5" fill="#a9acb1" stroke="#a9acb1" stroke-width="0.55" textLength="67.2" lengthAdjust="spacingAndGlyphs">$30.00M</text>
<text x="54.8" y="369.00" font-size="18.5" fill="#a9acb1" stroke="#a9acb1" stroke-width="0.55" textLength="67.2" lengthAdjust="spacingAndGlyphs">$20.00M</text>
<text x="54.8" y="412.00" font-size="18.5" fill="#a9acb1" stroke="#a9acb1" stroke-width="0.55" textLength="67.2" lengthAdjust="spacingAndGlyphs">$10.00M</text>
<text x="102.5" y="455.00" font-size="18.5" fill="#a9acb1" stroke="#a9acb1" stroke-width="0.55" textLength="19.5" lengthAdjust="spacingAndGlyphs">$0</text>
<text x="2470" y="153.25" font-size="18.5" fill="#a9acb1" stroke="#a9acb1" stroke-width="0.55" textLength="43" lengthAdjust="spacingAndGlyphs">$2.70</text>
<text x="2470" y="210.20" font-size="18.5" fill="#a9acb1" stroke="#a9acb1" stroke-width="0.55" textLength="43" lengthAdjust="spacingAndGlyphs">$2.40</text>
<text x="2470" y="267.15" font-size="18.5" fill="#a9acb1" stroke="#a9acb1" stroke-width="0.55" textLength="43" lengthAdjust="spacingAndGlyphs">$2.10</text>
<text x="2470" y="324.10" font-size="18.5" fill="#a9acb1" stroke="#a9acb1" stroke-width="0.55" textLength="43" lengthAdjust="spacingAndGlyphs">$1.80</text>
<text x="2470" y="381.05" font-size="18.5" fill="#a9acb1" stroke="#a9acb1" stroke-width="0.55" textLength="43" lengthAdjust="spacingAndGlyphs">$1.50</text>
<text x="2470" y="438.00" font-size="18.5" fill="#a9acb1" stroke="#a9acb1" stroke-width="0.55" textLength="43" lengthAdjust="spacingAndGlyphs">$1.20</text>
<text x="138.4" y="475.9" font-size="17.5" fill="#a9acb1" stroke="#a9acb1" stroke-width="0.3" textLength="52.9" lengthAdjust="spacingAndGlyphs">28 Oct</text>
<text x="224.0" y="475.9" font-size="17.5" fill="#a9acb1" stroke="#a9acb1" stroke-width="0.3" textLength="43.3" lengthAdjust="spacingAndGlyphs">1 Nov</text>
<text x="304.8" y="475.9" font-size="17.5" fill="#a9acb1" stroke="#a9acb1" stroke-width="0.3" textLength="43.3" lengthAdjust="spacingAndGlyphs">5 Nov</text>
<text x="385.6" y="475.9" font-size="17.5" fill="#a9acb1" stroke="#a9acb1" stroke-width="0.3" textLength="43.3" lengthAdjust="spacingAndGlyphs">9 Nov</text>
<text x="461.6" y="475.9" font-size="17.5" fill="#a9acb1" stroke="#a9acb1" stroke-width="0.3" textLength="52.9" lengthAdjust="spacingAndGlyphs">13 Nov</text>
<text x="542.3" y="475.9" font-size="17.5" fill="#a9acb1" stroke="#a9acb1" stroke-width="0.3" textLength="52.9" lengthAdjust="spacingAndGlyphs">17 Nov</text>
<text x="623.1" y="475.9" font-size="17.5" fill="#a9acb1" stroke="#a9acb1" stroke-width="0.3" textLength="52.9" lengthAdjust="spacingAndGlyphs">21 Nov</text>
<text x="704.0" y="475.9" font-size="17.5" fill="#a9acb1" stroke="#a9acb1" stroke-width="0.3" textLength="52.9" lengthAdjust="spacingAndGlyphs">25 Nov</text>
<text x="784.8" y="475.9" font-size="17.5" fill="#a9acb1" stroke="#a9acb1" stroke-width="0.3" textLength="52.9" lengthAdjust="spacingAndGlyphs">29 Nov</text>
<text x="870.5" y="475.9" font-size="17.5" fill="#a9acb1" stroke="#a9acb1" stroke-width="0.3" textLength="43.0" lengthAdjust="spacingAndGlyphs">3 Dec</text>
<text x="951.3" y="475.9" font-size="17.5" fill="#a9acb1" stroke="#a9acb1" stroke-width="0.3" textLength="43.0" lengthAdjust="spacingAndGlyphs">7 Dec</text>
<text x="1027.3" y="475.9" font-size="17.5" fill="#a9acb1" stroke="#a9acb1" stroke-width="0.3" textLength="52.6" lengthAdjust="spacingAndGlyphs">11 Dec</text>
<text x="1108.1" y="475.9" font-size="17.5" fill="#a9acb1" stroke="#a9acb1" stroke-width="0.3" textLength="52.6" lengthAdjust="spacingAndGlyphs">15 Dec</text>
<text x="1188.9" y="475.9" font-size="17.5" fill="#a9acb1" stroke="#a9acb1" stroke-width="0.3" textLength="52.6" lengthAdjust="spacingAndGlyphs">19 Dec</text>
<text x="1269.7" y="475.9" font-size="17.5" fill="#a9acb1" stroke="#a9acb1" stroke-width="0.3" textLength="52.6" lengthAdjust="spacingAndGlyphs">24 Dec</text>
<text x="1350.5" y="475.9" font-size="17.5" fill="#a9acb1" stroke="#a9acb1" stroke-width="0.3" textLength="52.6" lengthAdjust="spacingAndGlyphs">28 Dec</text>
<text x="1436.9" y="475.9" font-size="17.5" fill="#a9acb1" stroke="#a9acb1" stroke-width="0.3" textLength="41.3" lengthAdjust="spacingAndGlyphs">1 Jan</text>
<text x="1517.7" y="475.9" font-size="17.5" fill="#a9acb1" stroke="#a9acb1" stroke-width="0.3" textLength="41.3" lengthAdjust="spacingAndGlyphs">5 Jan</text>
<text x="1598.5" y="475.9" font-size="17.5" fill="#a9acb1" stroke="#a9acb1" stroke-width="0.3" textLength="41.3" lengthAdjust="spacingAndGlyphs">9 Jan</text>
<text x="1674.5" y="475.9" font-size="17.5" fill="#a9acb1" stroke="#a9acb1" stroke-width="0.3" textLength="50.9" lengthAdjust="spacingAndGlyphs">13 Jan</text>
<text x="1755.3" y="475.9" font-size="17.5" fill="#a9acb1" stroke="#a9acb1" stroke-width="0.3" textLength="50.9" lengthAdjust="spacingAndGlyphs">17 Jan</text>
<text x="1836.1" y="475.9" font-size="17.5" fill="#a9acb1" stroke="#a9acb1" stroke-width="0.3" textLength="50.9" lengthAdjust="spacingAndGlyphs">21 Jan</text>
<text x="1916.9" y="475.9" font-size="17.5" fill="#a9acb1" stroke="#a9acb1" stroke-width="0.3" textLength="50.9" lengthAdjust="spacingAndGlyphs">25 Jan</text>
<text x="1997.7" y="475.9" font-size="17.5" fill="#a9acb1" stroke="#a9acb1" stroke-width="0.3" textLength="50.9" lengthAdjust="spacingAndGlyphs">29 Jan</text>
<text x="2082.8" y="475.9" font-size="17.5" fill="#a9acb1" stroke="#a9acb1" stroke-width="0.3" textLength="42.3" lengthAdjust="spacingAndGlyphs">2 Feb</text>
<text x="2163.7" y="475.9" font-size="17.5" fill="#a9acb1" stroke="#a9acb1" stroke-width="0.3" textLength="42.3" lengthAdjust="spacingAndGlyphs">6 Feb</text>
<text x="2239.7" y="475.9" font-size="17.5" fill="#a9acb1" stroke="#a9acb1" stroke-width="0.3" textLength="51.9" lengthAdjust="spacingAndGlyphs">10 Feb</text>
<text x="2320.5" y="475.9" font-size="17.5" fill="#a9acb1" stroke="#a9acb1" stroke-width="0.3" textLength="51.9" lengthAdjust="spacingAndGlyphs">14 Feb</text>
<text x="2401.3" y="475.9" font-size="17.5" fill="#a9acb1" stroke="#a9acb1" stroke-width="0.3" textLength="51.9" lengthAdjust="spacingAndGlyphs">18 Feb</text>
<rect x="1300" y="479.75" width="1161.3" height="89.75" fill="#060b19"/>
<g clip-path="url(#unselclip)"><path d="M138.3 552.0L157.5 552.0L170.0 551.3L187.5 549.3L197.5 547.0L208.8 544.5L219.5 537.0L230.0 541.5L239.5 540.5L250.0 544.5L270.0 545.5L300.0 546.0L311.3 544.3L330.0 545.5L341.3 544.0L352.5 545.5L375.0 546.8L395.0 546.8L420.0 545.5L440.0 545.5L453.8 544.3L463.8 541.5L480.0 542.5L495.0 544.3L512.5 543.5L545.0 544.5L582.5 545.0L595.0 544.3L610.0 545.3L630.0 544.3L670.0 544.3L692.5 544.8L707.5 544.8L717.5 542.5L732.5 541.0L747.5 537.5L757.5 536.3L766.3 533.0L787.5 519.3L807.5 515.0L818.0 510.0L828.8 513.3L848.8 514.5L857.5 509.5L868.8 504.5L880.0 502.5L890.0 502.5L898.8 503.8L909.3 495.8L929.3 507.5L939.5 500.0L950.0 505.0L960.0 500.5L971.3 505.0L981.3 504.5L991.3 507.0L1000.5 503.8L1021.3 505.8L1031.3 518.8L1041.3 503.8L1051.3 505.8L1062.5 510.8L1075.0 511.3L1087.5 510.8L1092.5 512.0L1102.0 508.8L1111.3 510.8L1121.3 509.3L1132.5 511.3L1142.5 512.5L1152.5 507.5L1162.5 511.8L1182.5 511.8L1202.5 513.8L1215.0 515.0L1225.0 514.5L1235.0 512.5L1250.0 510.8L1265.0 508.8L1280.0 507.5L1292.5 507.5L1302.5 509.3L1315.0 510.0L1325.0 507.5L1337.5 504.5L1347.5 502.0L1360.0 503.3L1375.0 505.8L1405.0 502.5L1416.3 503.3L1426.3 500.5L1437.5 505.0L1460.0 504.3L1475.0 503.0L1487.5 503.8L1498.8 507.0L1507.5 507.5L1520.0 510.0L1537.5 510.0L1547.5 508.8L1558.8 511.8L1568.8 511.8L1582.5 514.0L1600.0 514.5L1610.0 515.3L1619.5 514.3L1630.0 528.0L1640.0 526.8L1648.8 527.3L1660.0 524.3L1670.0 524.0L1690.0 526.0L1717.5 527.0L1731.3 528.3L1750.0 525.8L1770.0 522.5L1781.3 521.0L1791.3 514.5L1801.3 518.0L1811.3 517.3L1821.3 520.3L1831.3 519.5L1841.3 521.3L1852.5 525.0L1865.0 525.8L1882.5 525.5L1892.5 524.5L1903.8 526.5L1922.5 523.0L1932.5 522.5L1943.8 524.3L1962.5 521.5L1973.8 521.5L1983.8 522.3L1995.0 520.5L2003.8 521.3L2022.5 519.0L2033.8 519.8L2045.0 520.0L2065.0 517.3L2075.0 519.5L2085.0 519.5L2105.0 522.3L2125.0 520.3L2137.5 521.5L2170.0 520.8L2186.3 519.3L2197.5 521.3L2207.5 520.3L2227.5 520.3L2240.0 521.5L2257.5 521.8L2268.8 524.3L2278.8 527.3L2288.8 526.3L2298.8 522.3L2308.8 523.0L2320.0 522.5L2328.8 524.0L2340.0 518.8L2349.3 515.5L2360.0 526.5L2370.0 524.3L2380.0 524.5L2390.0 523.3L2398.8 523.3L2410.0 525.5L2430.0 526.8L2447.5 523.0L2461.3 521.2L2461.3 569.5L138.3 569.5Z" fill="#0a0f1d"/><path d="M138.3 552.0L157.5 552.0L170.0 551.3L187.5 549.3L197.5 547.0L208.8 544.5L219.5 537.0L230.0 541.5L239.5 540.5L250.0 544.5L270.0 545.5L300.0 546.0L311.3 544.3L330.0 545.5L341.3 544.0L352.5 545.5L375.0 546.8L395.0 546.8L420.0 545.5L440.0 545.5L453.8 544.3L463.8 541.5L480.0 542.5L495.0 544.3L512.5 543.5L545.0 544.5L582.5 545.0L595.0 544.3L610.0 545.3L630.0 544.3L670.0 544.3L692.5 544.8L707.5 544.8L717.5 542.5L732.5 541.0L747.5 537.5L757.5 536.3L766.3 533.0L787.5 519.3L807.5 515.0L818.0 510.0L828.8 513.3L848.8 514.5L857.5 509.5L868.8 504.5L880.0 502.5L890.0 502.5L898.8 503.8L909.3 495.8L929.3 507.5L939.5 500.0L950.0 505.0L960.0 500.5L971.3 505.0L981.3 504.5L991.3 507.0L1000.5 503.8L1021.3 505.8L1031.3 518.8L1041.3 503.8L1051.3 505.8L1062.5 510.8L1075.0 511.3L1087.5 510.8L1092.5 512.0L1102.0 508.8L1111.3 510.8L1121.3 509.3L1132.5 511.3L1142.5 512.5L1152.5 507.5L1162.5 511.8L1182.5 511.8L1202.5 513.8L1215.0 515.0L1225.0 514.5L1235.0 512.5L1250.0 510.8L1265.0 508.8L1280.0 507.5L1292.5 507.5L1302.5 509.3L1315.0 510.0L1325.0 507.5L1337.5 504.5L1347.5 502.0L1360.0 503.3L1375.0 505.8L1405.0 502.5L1416.3 503.3L1426.3 500.5L1437.5 505.0L1460.0 504.3L1475.0 503.0L1487.5 503.8L1498.8 507.0L1507.5 507.5L1520.0 510.0L1537.5 510.0L1547.5 508.8L1558.8 511.8L1568.8 511.8L1582.5 514.0L1600.0 514.5L1610.0 515.3L1619.5 514.3L1630.0 528.0L1640.0 526.8L1648.8 527.3L1660.0 524.3L1670.0 524.0L1690.0 526.0L1717.5 527.0L1731.3 528.3L1750.0 525.8L1770.0 522.5L1781.3 521.0L1791.3 514.5L1801.3 518.0L1811.3 517.3L1821.3 520.3L1831.3 519.5L1841.3 521.3L1852.5 525.0L1865.0 525.8L1882.5 525.5L1892.5 524.5L1903.8 526.5L1922.5 523.0L1932.5 522.5L1943.8 524.3L1962.5 521.5L1973.8 521.5L1983.8 522.3L1995.0 520.5L2003.8 521.3L2022.5 519.0L2033.8 519.8L2045.0 520.0L2065.0 517.3L2075.0 519.5L2085.0 519.5L2105.0 522.3L2125.0 520.3L2137.5 521.5L2170.0 520.8L2186.3 519.3L2197.5 521.3L2207.5 520.3L2227.5 520.3L2240.0 521.5L2257.5 521.8L2268.8 524.3L2278.8 527.3L2288.8 526.3L2298.8 522.3L2308.8 523.0L2320.0 522.5L2328.8 524.0L2340.0 518.8L2349.3 515.5L2360.0 526.5L2370.0 524.3L2380.0 524.5L2390.0 523.3L2398.8 523.3L2410.0 525.5L2430.0 526.8L2447.5 523.0L2461.3 521.2" fill="none" stroke="#27365f" stroke-width="1.5"/></g>
<g clip-path="url(#selclip)"><path d="M138.3 552.0L157.5 552.0L170.0 551.3L187.5 549.3L197.5 547.0L208.8 544.5L219.5 537.0L230.0 541.5L239.5 540.5L250.0 544.5L270.0 545.5L300.0 546.0L311.3 544.3L330.0 545.5L341.3 544.0L352.5 545.5L375.0 546.8L395.0 546.8L420.0 545.5L440.0 545.5L453.8 544.3L463.8 541.5L480.0 542.5L495.0 544.3L512.5 543.5L545.0 544.5L582.5 545.0L595.0 544.3L610.0 545.3L630.0 544.3L670.0 544.3L692.5 544.8L707.5 544.8L717.5 542.5L732.5 541.0L747.5 537.5L757.5 536.3L766.3 533.0L787.5 519.3L807.5 515.0L818.0 510.0L828.8 513.3L848.8 514.5L857.5 509.5L868.8 504.5L880.0 502.5L890.0 502.5L898.8 503.8L909.3 495.8L929.3 507.5L939.5 500.0L950.0 505.0L960.0 500.5L971.3 505.0L981.3 504.5L991.3 507.0L1000.5 503.8L1021.3 505.8L1031.3 518.8L1041.3 503.8L1051.3 505.8L1062.5 510.8L1075.0 511.3L1087.5 510.8L1092.5 512.0L1102.0 508.8L1111.3 510.8L1121.3 509.3L1132.5 511.3L1142.5 512.5L1152.5 507.5L1162.5 511.8L1182.5 511.8L1202.5 513.8L1215.0 515.0L1225.0 514.5L1235.0 512.5L1250.0 510.8L1265.0 508.8L1280.0 507.5L1292.5 507.5L1302.5 509.3L1315.0 510.0L1325.0 507.5L1337.5 504.5L1347.5 502.0L1360.0 503.3L1375.0 505.8L1405.0 502.5L1416.3 503.3L1426.3 500.5L1437.5 505.0L1460.0 504.3L1475.0 503.0L1487.5 503.8L1498.8 507.0L1507.5 507.5L1520.0 510.0L1537.5 510.0L1547.5 508.8L1558.8 511.8L1568.8 511.8L1582.5 514.0L1600.0 514.5L1610.0 515.3L1619.5 514.3L1630.0 528.0L1640.0 526.8L1648.8 527.3L1660.0 524.3L1670.0 524.0L1690.0 526.0L1717.5 527.0L1731.3 528.3L1750.0 525.8L1770.0 522.5L1781.3 521.0L1791.3 514.5L1801.3 518.0L1811.3 517.3L1821.3 520.3L1831.3 519.5L1841.3 521.3L1852.5 525.0L1865.0 525.8L1882.5 525.5L1892.5 524.5L1903.8 526.5L1922.5 523.0L1932.5 522.5L1943.8 524.3L1962.5 521.5L1973.8 521.5L1983.8 522.3L1995.0 520.5L2003.8 521.3L2022.5 519.0L2033.8 519.8L2045.0 520.0L2065.0 517.3L2075.0 519.5L2085.0 519.5L2105.0 522.3L2125.0 520.3L2137.5 521.5L2170.0 520.8L2186.3 519.3L2197.5 521.3L2207.5 520.3L2227.5 520.3L2240.0 521.5L2257.5 521.8L2268.8 524.3L2278.8 527.3L2288.8 526.3L2298.8 522.3L2308.8 523.0L2320.0 522.5L2328.8 524.0L2340.0 518.8L2349.3 515.5L2360.0 526.5L2370.0 524.3L2380.0 524.5L2390.0 523.3L2398.8 523.3L2410.0 525.5L2430.0 526.8L2447.5 523.0L2461.3 521.2L2461.3 569.5L138.3 569.5Z" fill="#222a45"/><path d="M138.3 552.0L157.5 552.0L170.0 551.3L187.5 549.3L197.5 547.0L208.8 544.5L219.5 537.0L230.0 541.5L239.5 540.5L250.0 544.5L270.0 545.5L300.0 546.0L311.3 544.3L330.0 545.5L341.3 544.0L352.5 545.5L375.0 546.8L395.0 546.8L420.0 545.5L440.0 545.5L453.8 544.3L463.8 541.5L480.0 542.5L495.0 544.3L512.5 543.5L545.0 544.5L582.5 545.0L595.0 544.3L610.0 545.3L630.0 544.3L670.0 544.3L692.5 544.8L707.5 544.8L717.5 542.5L732.5 541.0L747.5 537.5L757.5 536.3L766.3 533.0L787.5 519.3L807.5 515.0L818.0 510.0L828.8 513.3L848.8 514.5L857.5 509.5L868.8 504.5L880.0 502.5L890.0 502.5L898.8 503.8L909.3 495.8L929.3 507.5L939.5 500.0L950.0 505.0L960.0 500.5L971.3 505.0L981.3 504.5L991.3 507.0L1000.5 503.8L1021.3 505.8L1031.3 518.8L1041.3 503.8L1051.3 505.8L1062.5 510.8L1075.0 511.3L1087.5 510.8L1092.5 512.0L1102.0 508.8L1111.3 510.8L1121.3 509.3L1132.5 511.3L1142.5 512.5L1152.5 507.5L1162.5 511.8L1182.5 511.8L1202.5 513.8L1215.0 515.0L1225.0 514.5L1235.0 512.5L1250.0 510.8L1265.0 508.8L1280.0 507.5L1292.5 507.5L1302.5 509.3L1315.0 510.0L1325.0 507.5L1337.5 504.5L1347.5 502.0L1360.0 503.3L1375.0 505.8L1405.0 502.5L1416.3 503.3L1426.3 500.5L1437.5 505.0L1460.0 504.3L1475.0 503.0L1487.5 503.8L1498.8 507.0L1507.5 507.5L1520.0 510.0L1537.5 510.0L1547.5 508.8L1558.8 511.8L1568.8 511.8L1582.5 514.0L1600.0 514.5L1610.0 515.3L1619.5 514.3L1630.0 528.0L1640.0 526.8L1648.8 527.3L1660.0 524.3L1670.0 524.0L1690.0 526.0L1717.5 527.0L1731.3 528.3L1750.0 525.8L1770.0 522.5L1781.3 521.0L1791.3 514.5L1801.3 518.0L1811.3 517.3L1821.3 520.3L1831.3 519.5L1841.3 521.3L1852.5 525.0L1865.0 525.8L1882.5 525.5L1892.5 524.5L1903.8 526.5L1922.5 523.0L1932.5 522.5L1943.8 524.3L1962.5 521.5L1973.8 521.5L1983.8 522.3L1995.0 520.5L2003.8 521.3L2022.5 519.0L2033.8 519.8L2045.0 520.0L2065.0 517.3L2075.0 519.5L2085.0 519.5L2105.0 522.3L2125.0 520.3L2137.5 521.5L2170.0 520.8L2186.3 519.3L2197.5 521.3L2207.5 520.3L2227.5 520.3L2240.0 521.5L2257.5 521.8L2268.8 524.3L2278.8 527.3L2288.8 526.3L2298.8 522.3L2308.8 523.0L2320.0 522.5L2328.8 524.0L2340.0 518.8L2349.3 515.5L2360.0 526.5L2370.0 524.3L2380.0 524.5L2390.0 523.3L2398.8 523.3L2410.0 525.5L2430.0 526.8L2447.5 523.0L2461.3 521.2" fill="none" stroke="#3f5491" stroke-width="1.6"/></g>
<rect x="1290.2" y="512.5" width="22" height="27.5" rx="9" fill="#363a49" fill-opacity="0.9"/>
<rect x="1298.0" y="521.5" width="1.8" height="9.5" fill="#c8cad4"/>
<rect x="1302.8" y="521.5" width="1.8" height="9.5" fill="#c8cad4"/>
<rect x="2448.6" y="512.5" width="22" height="27.5" rx="9" fill="#363a49" fill-opacity="0.9"/>
<rect x="2456.4" y="521.5" width="1.8" height="9.5" fill="#c8cad4"/>
<rect x="2461.2" y="521.5" width="1.8" height="9.5" fill="#c8cad4"/>
<g fill="#ffffff" fill-opacity="0.7">
<path transform="translate(2268,384) scale(0.08197)" d="M185 125L195 62L230 100L350 100L385 62L400 125C450 130 495 160 500 195C480 215 455 215 440 212C460 260 450 310 400 350C430 365 445 390 440 410C430 440 410 450 400 450L390 515C380 530 320 530 312 515L300 478L285 515C275 530 235 530 225 510L205 480L155 522L150 512L200 470C170 440 155 420 160 400C160 375 180 360 200 350C150 310 135 260 150 212C130 215 100 215 85 195C90 160 140 130 185 125Z"/>
<text x="2317.2" y="416.5" font-size="26" font-weight="700" textLength="107.3" lengthAdjust="spacingAndGlyphs">coinglass</text>
</g>
</svg></body></html>
